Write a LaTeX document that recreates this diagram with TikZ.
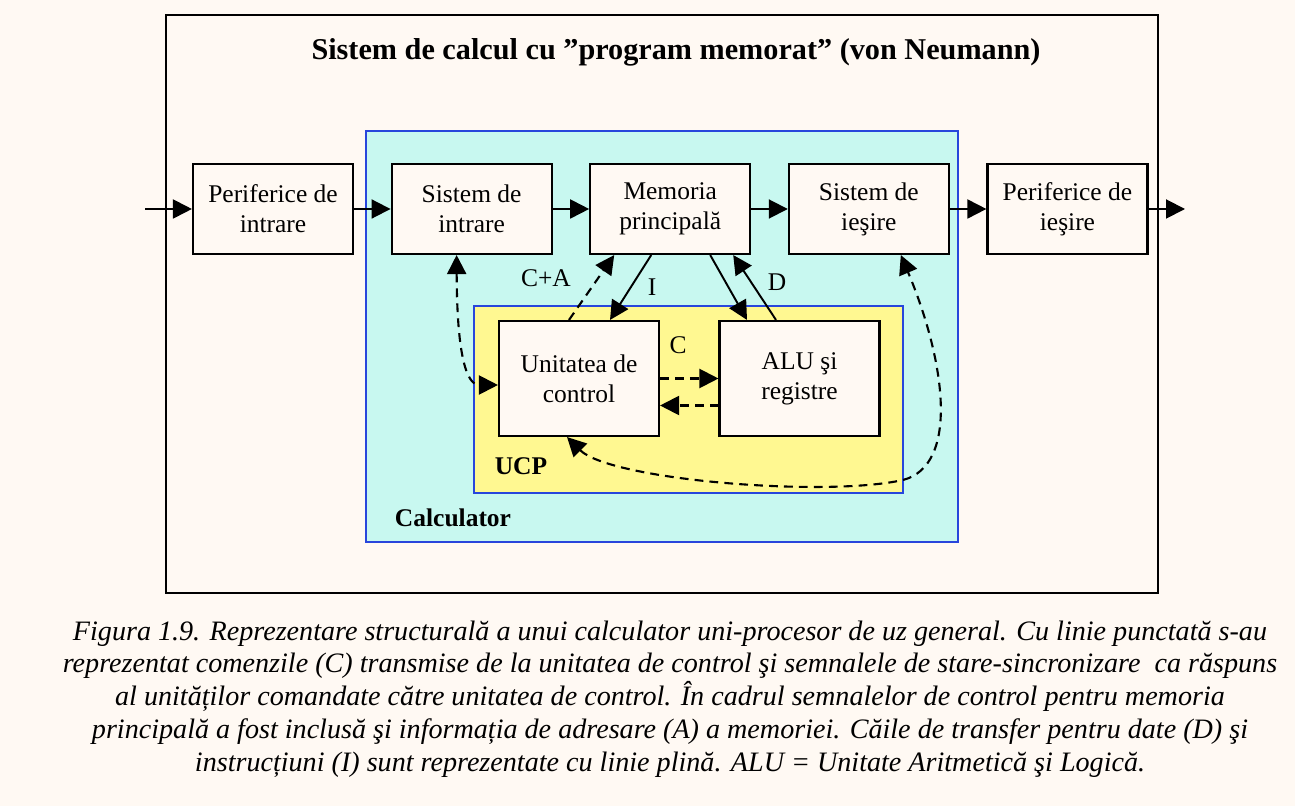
\documentclass[tikz,border=0pt]{standalone}
\usepackage{fontspec}
\setmainfont{Liberation Serif}
\usepackage{xcolor}
\usepackage{tikz}
\usetikzlibrary{arrows.meta, positioning}
\definecolor{bgcream}{RGB}{255,249,243}
\definecolor{calccyan}{RGB}{200,248,240}
\definecolor{ucpyellow}{RGB}{255,248,145}
\definecolor{frameblue}{RGB}{40,70,220}
\tikzstyle{block} = [rectangle, draw=black, fill=bgcream, line width=1.2pt,
    minimum width=3.2cm, minimum height=1.8cm, align=center,
    font=\fontsize{14.5}{17}\selectfont, inner sep=2pt]
\tikzstyle{unit}  = [block, minimum height=2.3cm]
\tikzstyle{frame} = [draw=frameblue, line width=1pt]
\tikzstyle{lbl}   = [font=\fontsize{14.5}{17}\selectfont]
\tikzstyle{arrow} = [-{Triangle[length=0.38cm, width=0.38cm]}, line width=1.1pt]
\tikzstyle{dashedarrow} = [arrow, line width=1.2pt, dash pattern=on 5pt off 3.5pt]
\tikzstyle{twoway} = [dashedarrow, {Triangle[length=0.38cm, width=0.38cm]}-{Triangle[length=0.38cm, width=0.38cm]}]

\begin{document}
\begin{tikzpicture}
  \useasboundingbox (0,0) rectangle (25.9,-16.12);
  \fill[bgcream] (0,0) rectangle (25.9,-16.12);

  % Frames
  \draw[line width=1.1pt] (3.32,-0.30) rectangle (23.16,-11.86);
  \node[font=\bfseries\fontsize{17.2}{20}\selectfont] (title) at (13.52,-1.04)
    {Sistem de calcul cu ”program memorat” (von Neumann)};
  \filldraw[frame, fill=calccyan] (7.32,-2.62) rectangle (19.16,-10.84);
  \node[lbl, font=\bfseries\fontsize{14.5}{17}\selectfont] (calc) at (9.06,-10.36) {Calculator};
  \filldraw[frame, fill=ucpyellow] (9.48,-6.12) rectangle (18.06,-9.86);
  \node[lbl, font=\bfseries\fontsize{14.5}{17}\selectfont] (ucp) at (10.42,-9.32) {UCP};

  % Top row
  \node[block] (perin) at (5.46,-4.18) {Periferice de\\intrare};
  \node[block, right=0.73cm of perin]  (sysin)  {Sistem de\\intrare};
  \node[block, right=0.73cm of sysin]  (mem)    {Memoria\\principală};
  \node[block, right=0.73cm of mem]    (sysout) {Sistem de\\ieşire};
  \node[block, right=0.73cm of sysout] (perout) {Periferice de\\ieşire};
  \coordinate (in)  at (2.9,-4.18);
  \coordinate (out) at (23.7,-4.18);

  % Processor
  \node[unit] (cu)  at (11.58,-7.57) {Unitatea de\\control};
  \node[unit] (alu) at (15.99,-7.57) {ALU şi\\registre};

  \draw[arrow](in)--(perin);
  \draw[arrow](perin)--(sysin);
  \draw[arrow](sysin)--(mem);
  \draw[arrow](mem)--(sysout);
  \draw[arrow](sysout)--(perout);
  \draw[arrow](perout)--(out);

  % Data and instructions
  \draw[arrow]([xshift=-0.38cm]mem.south) -- ([xshift=0.62cm]cu.north);
  \draw[arrow]([xshift=0.80cm]mem.south) -- ([xshift=-1.05cm]alu.north);
  \draw[arrow]([xshift=-0.47cm]alu.north) -- ([xshift=1.26cm]mem.south);
  \node[lbl] (li) at (13.04,-5.74) {I};
  \node[lbl] (ld) at (15.54,-5.64) {D};

  % Control
  \draw[dashedarrow]([xshift=-0.20cm]cu.north) -- ([xshift=-1.12cm]mem.south);
  \node[lbl] (lca) at (10.92,-5.56) {C+A};
  \draw[dashedarrow](cu.east) -- (cu.east -| alu.west);
  \draw[dashedarrow]([yshift=-0.54cm]alu.west) -- ([yshift=-0.54cm]alu.west -| cu.east);
  \node[lbl] (lc) at (13.56,-6.90) {C};
  \draw[twoway]
    ([xshift=-0.30cm]sysin.south) .. controls (9.14,-7.4) and (9.4,-7.70) .. ([yshift=-0.13cm]cu.west);
  \draw[twoway]
    ([xshift=-0.24cm]cu.south) .. controls (12.2,-9.6) and (16.5,-9.95) .. (18.06,-9.6)
    .. controls (19.2,-9.3) and (18.9,-7.2) .. ([xshift=0.64cm]sysout.south);

  % Caption
  \node[font=\itshape\fontsize{16}{18.7}\selectfont, align=center] (caption) at (13.4,-13.98)
    {Figura 1.9. Reprezentare structurală a unui calculator uni-procesor de uz general. Cu linie punctată s-au\\
     reprezentat comenzile (C) transmise de la unitatea de control şi semnalele de stare-sincronizare\ \ ca răspuns\\
     al unităților comandate către unitatea de control. În cadrul semnalelor de control pentru memoria\\
     principală a fost inclusă şi informația de adresare (A) a memoriei. Căile de transfer pentru date (D) şi\\
     instrucțiuni (I) sunt reprezentate cu linie plină. ALU = Unitate Aritmetică şi Logică.};
\end{tikzpicture}
\end{document}
